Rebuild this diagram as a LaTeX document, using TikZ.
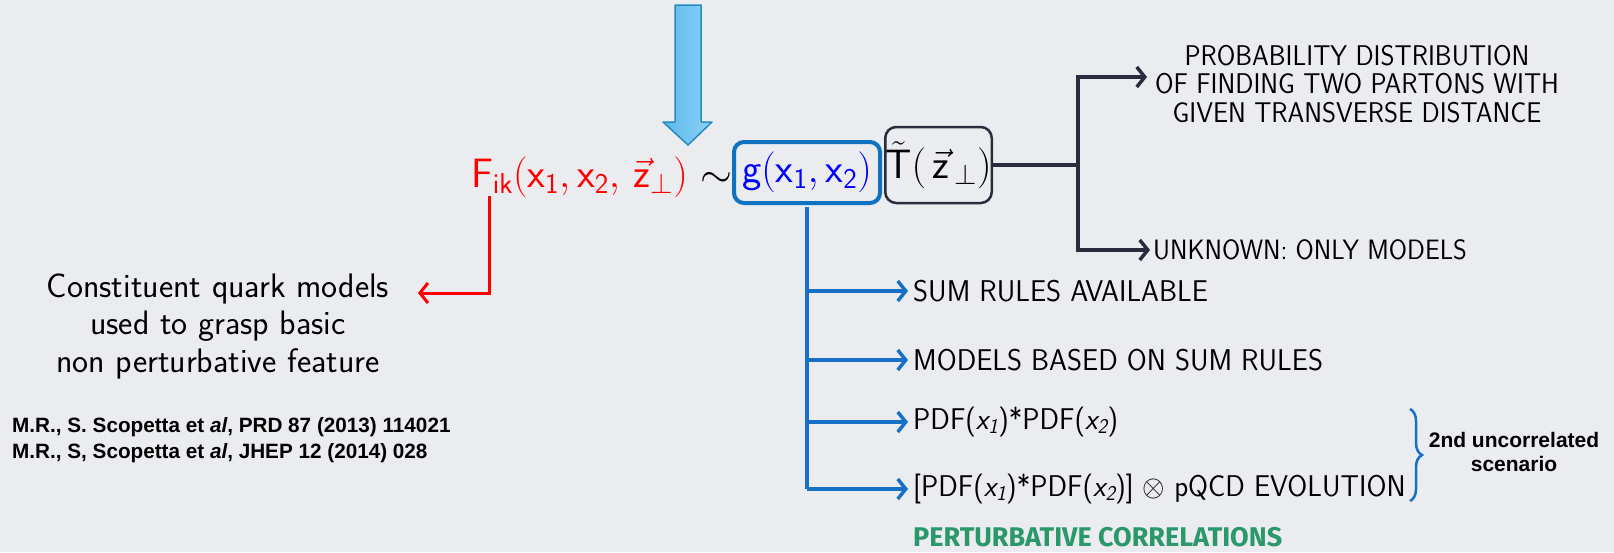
\RequirePackage{fix-cm}
\documentclass[tikz,border=0pt]{standalone}
\usepackage{fontspec}
\usepackage{amsmath}
\usetikzlibrary{arrows.meta,decorations.pathreplacing}
\newfontfamily\reffont{Liberation Sans}
\newfontfamily\greenfont{Fira Sans}
\definecolor{bg}{RGB}{235,236,240}
\definecolor{darkc}{RGB}{40,44,60}
\definecolor{boxblue}{RGB}{14,114,192}
\definecolor{linkblue}{RGB}{22,112,198}
\definecolor{arrowlight}{RGB}{140,210,248}
\definecolor{arrowmid}{RGB}{92,184,234}
\definecolor{arrowedge}{RGB}{38,138,190}
\definecolor{pertgreen}{RGB}{42,152,106}
\newcommand\condtext[1]{\scalebox{0.94}[1]{#1}}
\newcommand\condblue[1]{\scalebox{0.96}[1]{#1}}
\begin{document}
\begin{tikzpicture}[x=1pt,y=-1pt,
  formula/.style={inner sep=0pt, font=\sffamily\fontsize{41}{46}\selectfont},
  capsnode/.style={inner sep=0pt, anchor=west, font=\sffamily\fontsize{28}{34}\selectfont},
  bluecaps/.style={inner sep=0pt, anchor=west, font=\sffamily\fontsize{30}{36}\selectfont},
  bluelink/.style={draw=linkblue, line width=3.5pt},
  darkline/.style={draw=darkc, line width=4pt},
  redline/.style={draw=red, line width=3pt},
  barb/.style={-{Straight Barb[length=8pt,width=20pt,line width=3.5pt]}}
]
\fill[bg] (0,0) rectangle (1614,552);
\useasboundingbox (0,0) rectangle (1614,552);

% big blue arrow
\shade[left color=arrowmid, right color=arrowlight, draw=arrowedge, line width=1.5pt, line join=round]
  (675,5) -- (701,5) -- (701,122) -- (712,122) -- (688,145) -- (663,122) -- (675,122) -- cycle;

% formula
\node[formula, text=red, anchor=base east] (F) at (688,187)
  {$\mathsf{F}_{\mathsf{ik}}(\mathsf{x}_{\mathsf{1}},\mathsf{x}_{\mathsf{2}},\,\vec{\mathsf{z}}_{\perp})$};
\node[formula, anchor=base] (sim) at (716,187) {$\sim$};
\node[formula, text=blue, draw=boxblue, line width=4pt, rounded corners=10pt, inner xsep=0pt,
      minimum width=146pt, minimum height=61pt] (gbox) at (807,172.5)
  {$\mathsf{g}(\mathsf{x}_{\mathsf{1}},\mathsf{x}_{\mathsf{2}})$};
\node[formula, draw=darkc, line width=2.5pt, rounded corners=11pt, inner xsep=0pt,
      minimum width=105pt, minimum height=76pt] (tbox) at (938.5,165)
  {$\tilde{\mathsf{T}}(\,\vec{\mathsf{z}}_{\,\perp})$};

% red branch
\coordinate (redtop) at (489,196);
\node[align=center, inner sep=0pt, font=\sffamily\fontsize{34}{37.5}\selectfont] (cq) at (218,326)
  {Constituent quark models\\used to grasp basic\\non perturbative feature};
\coordinate (redtip) at (418,293);
\draw[redline, -{Straight Barb[length=8pt,width=20pt,line width=3pt]}] (redtop) |- (redtip);

% references
\node[anchor=base west, inner sep=0pt, font=\reffont\bfseries\fontsize{20.7}{24}\selectfont] (ref1) at (12,432)
  {M.R., S. Scopetta et \textit{al}, PRD 87 (2013) 114021};
\node[anchor=base west, inner sep=0pt, font=\reffont\bfseries\fontsize{20.7}{24}\selectfont] (ref2) at (12,458)
  {M.R., S, Scopetta et \textit{al}, JHEP 12 (2014) 028};

% dark branch
\node[inner sep=0pt, align=center, font=\sffamily\fontsize{28.5}{28.3}\selectfont] (prob) at (1357,84)
  {\condtext{PROBABILITY DISTRIBUTION}\\\condtext{OF FINDING TWO PARTONS WITH}\\\condtext{GIVEN TRANSVERSE DISTANCE}};
\node[capsnode] (unk) at (1153,250) {\condtext{UNKNOWN: ONLY MODELS}};
\coordinate (djx) at (1078,0);
\draw[darkline] (tbox.east) -- (tbox.east -| djx) coordinate (dj);
\coordinate (probtip) at (1147,77);
\draw[darkline, barb] (dj) |- (probtip);
\draw[darkline, barb] (dj) |- ([xshift=-3pt]unk.west);

% blue branch
\node[bluecaps] (s1) at (913,291) {\condblue{SUM RULES AVAILABLE}};
\node[bluecaps] (s2) at (913,360) {\condblue{MODELS BASED ON SUM RULES}};
\node[bluecaps] (s3) at (913,422) {\condblue{PDF(\textit{x\textsubscript{1}})*PDF(\textit{x\textsubscript{2}})}};
\node[bluecaps] (s4) at (913,489) {\condblue{[PDF(\textit{x\textsubscript{1}})*PDF(\textit{x\textsubscript{2}})] $\otimes$ pQCD EVOLUTION}};
\draw[bluelink] ([yshift=-2pt]gbox.south) -- (gbox.south |- s4.west);
\foreach \s in {s1,s2,s3,s4}{
  \draw[bluelink, barb] (gbox.south |- \s.west) -- ([xshift=-5pt]\s.west);
}

% brace and scenario
\draw[draw=linkblue, line width=2.5pt, decorate, decoration={brace, amplitude=12pt}]
  (1410,409) -- (1410,501);
\node[align=center, inner sep=0pt, font=\reffont\bfseries\fontsize{21}{24.5}\selectfont] (scen) at (1514,452)
  {2nd uncorrelated\\scenario};

% green label
\node[anchor=west, inner sep=0pt, text=pertgreen, font=\greenfont\bfseries\fontsize{27}{30}\selectfont] (pert) at (913,537)
  {PERTURBATIVE CORRELATIONS};
\end{tikzpicture}
\end{document}
